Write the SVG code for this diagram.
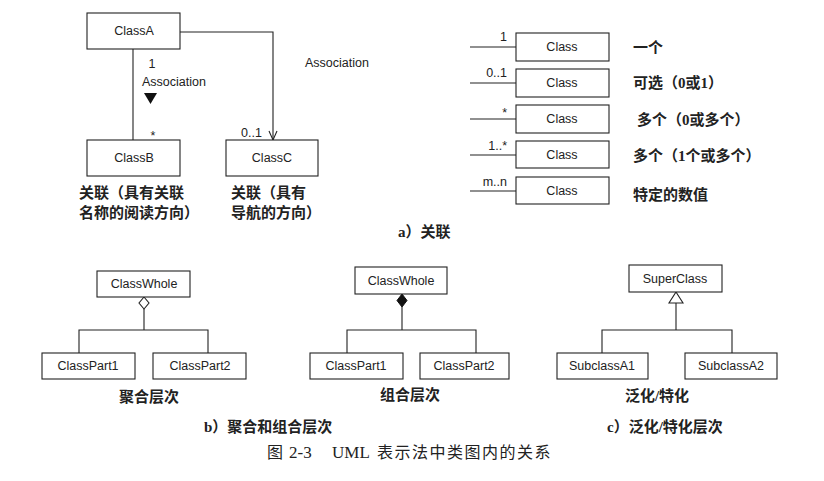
<svg xmlns="http://www.w3.org/2000/svg" width="824" height="481" viewBox="0 0 824 481">
<style>
.box{fill:#fff;stroke:#222;stroke-width:1.1}
.ln{fill:none;stroke:#222;stroke-width:1.1}
.t{font-family:"Liberation Sans",Arial,sans-serif;font-size:12.5px;fill:#222}
.tm{font-family:"Liberation Sans",Arial,sans-serif;font-size:12.5px;fill:#222;text-anchor:middle}
.cn{font-family:"Liberation Serif","Noto Sans CJK SC",serif;font-size:15px;font-weight:bold;fill:#222}
.cap{font-family:"Liberation Serif","Noto Sans CJK SC",serif;font-size:16px;fill:#222}
</style>
<rect width="824" height="481" fill="#fff"/>
<g id="connectors">
<path class="ln" d="M133 49V140"/>
<path class="ln" d="M180 32H273V140"/>
<path class="ln" d="M269 131L273 140L277 131"/>
<polygon points="144,93 157,93 150.5,104" fill="#111"/>
<path class="ln" d="M470 47H516M470 83H516M470 119H516M470 155H516M470 191H516"/>
<polygon class="ln" points="144,297 149,303 144,309 139,303" fill="#fff"/>
<path class="ln" d="M144 309V330M79 353V330H208V353"/>
<polygon points="402,294 407,300.5 402,307 397,300.5" fill="#111" stroke="#111"/>
<path class="ln" d="M402 307V330M347 353V330H476V353"/>
<polygon class="ln" points="676,292 683,303 669,303" fill="#fff"/>
<path class="ln" d="M676 303V330M602 353V330H732V353"/>
</g>
<g id="labels-a">
<text class="tm" x="152" y="68">1</text>
<text class="t" x="142" y="86">Association</text>
<text class="tm" x="153" y="140">*</text>
<text class="t" x="305" y="67">Association</text>
<text class="t" x="241" y="137">0..1</text>
<text class="t" x="507" y="41" text-anchor="end">1</text>
<text class="t" x="507" y="77" text-anchor="end">0..1</text>
<text class="t" x="507" y="117" text-anchor="end">*</text>
<text class="t" x="507" y="150" text-anchor="end">1..*</text>
<text class="t" x="507" y="186" text-anchor="end">m..n</text>
</g>
<g id="ClassA"><rect class="box" x="87" y="13" width="93" height="36"/><text class="tm" x="134" y="35">ClassA</text></g>
<g id="ClassB"><rect class="box" x="87" y="140" width="93" height="36"/><text class="tm" x="134" y="162">ClassB</text></g>
<g id="ClassC"><rect class="box" x="226" y="140" width="92" height="36"/><text class="tm" x="272" y="162">ClassC</text></g>
<g id="Class1"><rect class="box" x="516" y="33" width="93" height="28"/><text class="tm" x="562" y="51">Class</text></g>
<g id="Class2"><rect class="box" x="516" y="69" width="93" height="28"/><text class="tm" x="562" y="87">Class</text></g>
<g id="Class3"><rect class="box" x="516" y="105" width="93" height="28"/><text class="tm" x="562" y="123">Class</text></g>
<g id="Class4"><rect class="box" x="516" y="141" width="93" height="27"/><text class="tm" x="562" y="159">Class</text></g>
<g id="Class5"><rect class="box" x="516" y="177" width="93" height="27"/><text class="tm" x="562" y="195">Class</text></g>
<g id="text-a">
<text class="cn" x="79" y="198">关联（具有关联</text>
<text class="cn" x="79" y="218">名称的阅读方向）</text>
<text class="cn" x="231" y="198">关联（具有</text>
<text class="cn" x="231" y="218">导航的方向）</text>
<text class="cn" x="633" y="53">一个</text>
<text class="cn" x="633" y="88">可选（0或1）</text>
<text class="cn" x="637" y="125">多个（0或多个）</text>
<text class="cn" x="633" y="161">多个（1个或多个）</text>
<text class="cn" x="633" y="200">特定的数值</text>
<text class="cn" x="398" y="237">a）关联</text>
</g>
<g id="ClassWhole1"><rect class="box" x="97" y="271" width="93" height="26"/><text class="tm" x="144" y="288">ClassWhole</text></g>
<g id="ClassPart1a"><rect class="box" x="42" y="353" width="93" height="26"/><text class="tm" x="88" y="370">ClassPart1</text></g>
<g id="ClassPart2a"><rect class="box" x="153" y="353" width="93" height="26"/><text class="tm" x="200" y="370">ClassPart2</text></g>
<g id="ClassWhole2"><rect class="box" x="355" y="267" width="92" height="27"/><text class="tm" x="401" y="285">ClassWhole</text></g>
<g id="ClassPart1b"><rect class="box" x="310" y="353" width="93" height="26"/><text class="tm" x="356" y="370">ClassPart1</text></g>
<g id="ClassPart2b"><rect class="box" x="420" y="353" width="89" height="26"/><text class="tm" x="464" y="370">ClassPart2</text></g>
<g id="SuperClass"><rect class="box" x="629" y="265" width="93" height="27"/><text class="tm" x="675" y="283">SuperClass</text></g>
<g id="SubclassA1"><rect class="box" x="557" y="353" width="91" height="26"/><text class="tm" x="602" y="370">SubclassA1</text></g>
<g id="SubclassA2"><rect class="box" x="685" y="353" width="92" height="26"/><text class="tm" x="731" y="370">SubclassA2</text></g>
<g id="text-bc">
<text class="cn" x="149" y="402" text-anchor="middle">聚合层次</text>
<text class="cn" x="410" y="400" text-anchor="middle">组合层次</text>
<text class="cn" x="657" y="401" text-anchor="middle">泛化/特化</text>
<text class="cn" x="204" y="432">b）聚合和组合层次</text>
<text class="cn" x="607" y="432">c）泛化/特化层次</text>
<text class="cap" y="458"><tspan x="267">图</tspan><tspan x="289" font-size="17">2-3</tspan><tspan x="332" font-size="17">UML</tspan><tspan x="377" letter-spacing="1.5">表示法中类图内的关系</tspan></text>
</g>
</svg>
